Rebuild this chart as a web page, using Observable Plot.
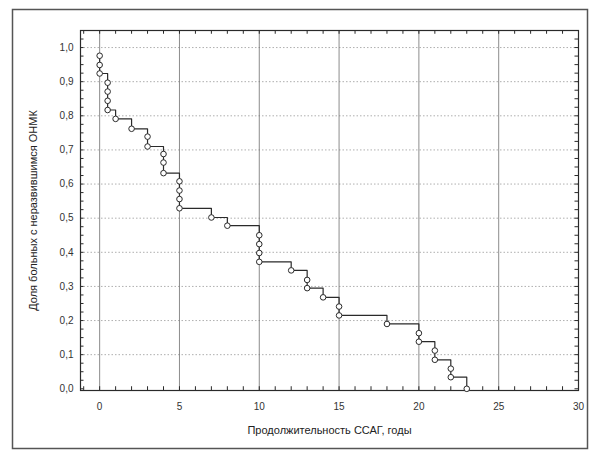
<!DOCTYPE html>
<html><head><meta charset="utf-8">
<script src="https://cdn.jsdelivr.net/npm/d3@7"></script>
<script src="https://cdn.jsdelivr.net/npm/@observablehq/plot@0.6"></script>
<style>
body{margin:0;background:#fff}
#chart{width:592px;height:451px}
</style>
</head><body><div id="chart"></div>
<script>
// Duration of arterial hypertension (years) at each event
const years = [0,0,0, 0.5,0.5,0.5,0.5, 1, 2, 3,3, 4,4,4, 5,5,5,5, 7, 8, 10,10,10,10, 12, 13,13, 14, 15,15, 18, 20,20, 21,21, 22,22, 23];
// Share of patients without stroke after each event
const share = [0.976,0.949,0.924, 0.897,0.871,0.844,0.817, 0.791, 0.762, 0.739,0.710, 0.688,0.663,0.632, 0.608,0.581,0.556,0.529, 0.502, 0.478, 0.450,0.424,0.398,0.372, 0.347, 0.319,0.295, 0.268, 0.241,0.215, 0.190, 0.163,0.138, 0.112,0.085, 0.059,0.034, 0.0];
const xTicks = [0,5,10,15,20,25,30];
const yTicks = [0,0.1,0.2,0.3,0.4,0.5,0.6,0.7,0.8,0.9,1.0];
const xTitle = "Продолжительность ССАГ, годы";
const yTitle = "Доля больных с неразвившимся ОНМК";

const data = years.map((t, i) => ({t, s: share[i]}));
const X0 = -1.2, X1 = 30, Y0 = -0.005, Y1 = 1.05;
const minorX = d3.range(-1, 31, 1);
const minorY = d3.range(0, 1.051, 0.025);
const fmt = d => d.toFixed(1).replace(".", ",");
const ink = "#2a2a2a";

const plot = Plot.plot({
  width: 592, height: 451,
  marginLeft: 80, marginRight: 14, marginTop: 30, marginBottom: 61,
  style: {fontFamily: "'Liberation Sans', Arial, sans-serif", fontSize: "10px", color: "#333", background: "#fff"},
  x: {domain: [X0, X1]},
  y: {domain: [Y0, Y1]},
  marks: [
    Plot.frame({insetLeft: -68, insetRight: -9, insetTop: -21, insetBottom: -58, stroke: "#555", strokeWidth: 1.5}),
    Plot.ruleY(yTicks.filter(d => d > 0), {stroke: "#9a9a9a", strokeWidth: 0.8, strokeDasharray: "1.5,2"}),
    Plot.ruleX(xTicks.filter(d => d < 30), {stroke: "#6f6f6f", strokeWidth: 0.8}),
    // minor ticks (inward) on all four sides
    Plot.ruleX(minorX, {y1: Y0, y2: Y0 + 0.011, stroke: ink, strokeWidth: 1}),
    Plot.ruleX(minorX, {y1: Y1, y2: Y1 - 0.011, stroke: ink, strokeWidth: 1}),
    Plot.ruleY(minorY, {x1: X0, x2: X0 + 0.22, stroke: ink, strokeWidth: 1}),
    Plot.ruleY(minorY, {x1: X1, x2: X1 - 0.22, stroke: ink, strokeWidth: 1}),
    Plot.frame({stroke: ink, strokeWidth: 1.2}),
    Plot.axisX(xTicks, {tickSize: 0, tickPadding: 12, label: null, fill: "#333"}),
    Plot.axisY(yTicks, {tickSize: 0, tickPadding: 7, tickFormat: fmt, label: null, fill: "#333"}),
    Plot.line(data, {x: "t", y: "s", curve: "step-after", stroke: ink, strokeWidth: 1.2}),
    Plot.dot(data, {x: "t", y: "s", r: 2.8, stroke: ink, strokeWidth: 1, fill: "#fff"}),
    Plot.text([xTitle], {frameAnchor: "bottom", textAnchor: "middle", dy: 43, fontSize: 11, fill: "#222"}),
    Plot.text([yTitle], {frameAnchor: "left", textAnchor: "middle", dx: -47, rotate: -90, fontSize: 11, fill: "#222"})
  ]
});
document.getElementById("chart").append(plot);
</script>
</body></html>
